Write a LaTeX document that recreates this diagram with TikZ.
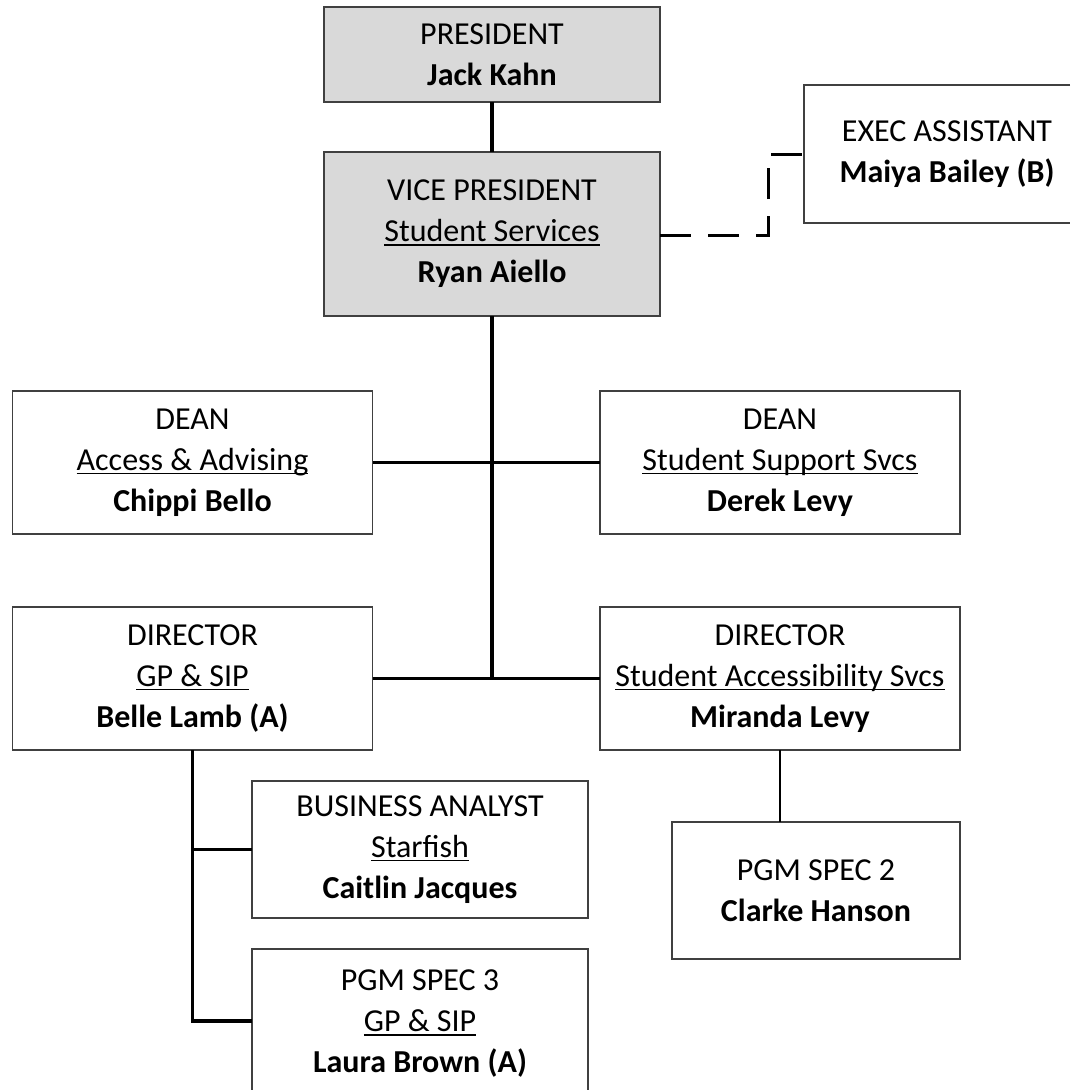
\documentclass[tikz,border=0pt]{standalone}
\usepackage{fontspec}
\setmainfont{Carlito}
\definecolor{boxgray}{HTML}{D9D9D9}
\definecolor{bordergray}{HTML}{404040}
\newcommand\ulx[1]{\setbox0\hbox{#1}\rlap{\rule[-4pt]{\wd0}{1.6pt}}\box0}
\begin{document}
\begin{tikzpicture}[x=1pt,y=-1pt,
  box/.style={draw=bordergray, line width=1.3pt, inner sep=0pt, outer sep=0pt, align=center, font=\fontsize{32}{41}\selectfont},
  nobox/.style={box, draw=none},
  frame/.style={draw=bordergray, line width=1.3pt},
  gbox/.style={box, fill=boxgray},
  thk/.style={line width=3.5pt},
  thn/.style={line width=2.2pt}]
\useasboundingbox (0,0) rectangle (1074,1090);

\node[gbox, minimum width=336pt, minimum height=95pt] (pres) at (492,54.5) {PRESIDENT\\\textbf{Jack Kahn}};
\node[gbox, minimum width=336pt, minimum height=164pt] (vp) at (492,234) {VICE PRESIDENT\\\ulx{Student Services}\\\textbf{Ryan Aiello}};
\node[nobox, minimum width=286pt, minimum height=138pt] (exec) at (947,154) {EXEC ASSISTANT\\\textbf{Maiya Bailey (B)}};
\draw[frame] (exec.north west -| 1070,0) -- (exec.north west) -- (exec.south west) -- (exec.south west -| 1070,0);
\node[box, minimum width=360pt, minimum height=143pt] (deanL) at (192.5,462.5) {DEAN\\\ulx{Access \& Advising}\\\textbf{Chippi Bello}};
\node[box, minimum width=360pt, minimum height=143pt] (deanR) at (780,462.5) {DEAN\\\ulx{Student Support Svcs}\\\textbf{Derek Levy}};
\node[box, minimum width=360pt, minimum height=143pt] (dirL) at (192.5,678.5) {DIRECTOR\\\ulx{GP \& SIP}\\\textbf{Belle Lamb (A)}};
\node[box, minimum width=360pt, minimum height=143pt] (dirR) at (780,678.5) {DIRECTOR\\\ulx{Student Accessibility Svcs}\\\textbf{Miranda Levy}};
\node[box, minimum width=336pt, minimum height=137pt] (ba) at (420,849.5) {BUSINESS ANALYST\\\ulx{Starfish}\\\textbf{Caitlin Jacques}};
\node[nobox, minimum width=336pt, minimum height=150pt] (pgmc) at (420,1024) {PGM SPEC 3\\\ulx{GP \& SIP}\\\textbf{Laura Brown (A)}};
\draw[frame] (pgmc.north west |- 0,1090) -- (pgmc.north west) -- (pgmc.north east) -- (pgmc.north east |- 0,1090);
\node[box, minimum width=288pt, minimum height=137pt] (pgmb) at (816,890.5) {PGM SPEC 2\\\textbf{Clarke Hanson}};

\coordinate (j2) at (492,678.5);
\draw[thk] (pres.south) -- (vp.north);
\draw[thk] (vp.south) -- (j2);
\draw[thk] (deanL.east) -- (deanR.west);
\draw[thk] (dirL.east) -- (j2);
\draw[thn] (j2) -- (dirR.west);
\draw[thn] (dirR.south) -- (dirR.south |- pgmb.north);
\draw[thk] (dirL.south) |- ([yshift=3pt]pgmc.west);
\draw[thk] (dirL.south |- ba.west) -- (ba.west);
\draw[line width=3pt, dash pattern=on 31pt off 17pt] ([yshift=-1pt]vp.east) -- ++(108,0) |- (exec.west);
\end{tikzpicture}
\end{document}
